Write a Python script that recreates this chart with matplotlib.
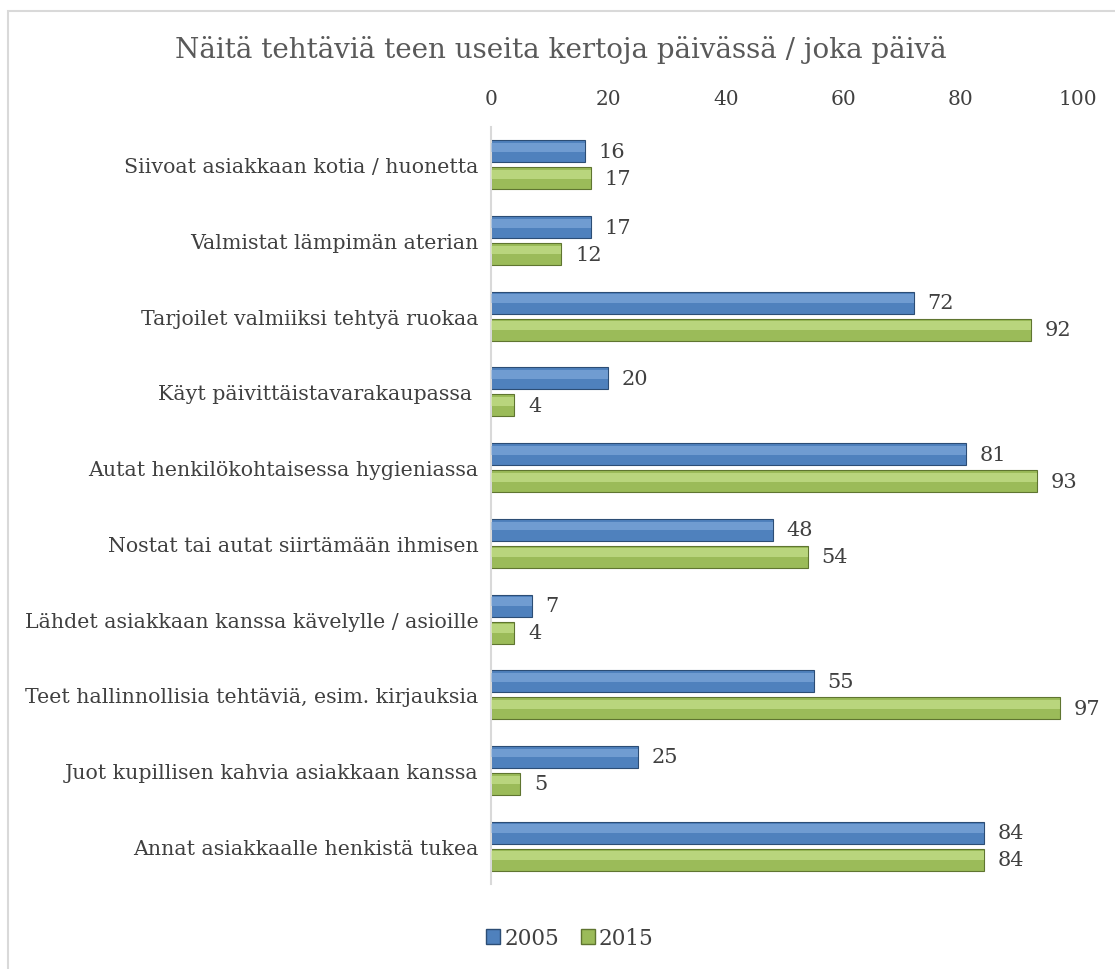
import matplotlib.pyplot as plt
from matplotlib.patches import Rectangle
import numpy as np

# Data
categories = [
    "Siivoat asiakkaan kotia / huonetta",
    "Valmistat lämpimän aterian",
    "Tarjoilet valmiiksi tehtyä ruokaa",
    "Käyt päivittäistavarakaupassa ",
    "Autat henkilökohtaisessa hygieniassa",
    "Nostat tai autat siirtämään ihmisen",
    "Lähdet asiakkaan kanssa kävelylle / asioille",
    "Teet hallinnollisia tehtäviä, esim. kirjauksia",
    "Juot kupillisen kahvia asiakkaan kanssa",
    "Annat asiakkaalle henkistä tukea",
]
values_2005 = [16, 17, 72, 20, 81, 48, 7, 55, 25, 84]
values_2015 = [17, 12, 92, 4, 93, 54, 4, 97, 5, 84]
series_names = ["2005", "2015"]
x_ticks = [0, 20, 40, 60, 80, 100]

title = "Näitä tehtäviä teen useita kertoja päivässä / joka päivä"

plt.rcParams['font.family'] = ['DejaVu Serif']
text_color = "#404040"

fig = plt.figure(figsize=(11.15, 9.7), dpi=100)

# light frame around the chart area
fig.patches.append(Rectangle((8 / 1115, -0.05), 1.2, 1 - 12 / 970 + 0.05,
                             transform=fig.transFigure, fill=False,
                             edgecolor="#d9d9d9", linewidth=1.5))

ax = fig.add_axes([491 / 1115, 1 - 885 / 970, (1078 - 491) / 1115, (885 - 128) / 970])

y = np.arange(len(categories))
h = 0.29
off = 0.178


def bevel_bars(ypos, vals, face, light, dark):
    ax.barh(ypos, vals, height=h, color=face, edgecolor=dark, linewidth=0.8, zorder=2)
    # soft lighter band in the upper half to mimic the bevel
    ax.barh(ypos - h * 0.18, vals, height=h * 0.4, color=light, linewidth=0, alpha=0.55, zorder=3)


bevel_bars(y - off, values_2005, "#4f81bd", "#8db3e2", "#2c4d75")
bevel_bars(y + off, values_2015, "#9bbb59", "#d2ec9c", "#5f7530")

for i in range(len(categories)):
    ax.text(values_2005[i] + 2.3, y[i] - off, str(values_2005[i]), va="center", ha="left",
            fontsize=15, color=text_color)
    ax.text(values_2015[i] + 2.3, y[i] + off, str(values_2015[i]), va="center", ha="left",
            fontsize=15, color=text_color)

ax.set_xlim(0, 100)
ax.set_ylim(len(categories) - 0.5, -0.5)
ax.set_xticks(x_ticks)
ax.xaxis.tick_top()
ax.tick_params(axis="x", length=0, pad=14, labelsize=14.5, labelcolor=text_color)
ax.set_yticks(y)
ax.set_yticklabels(categories)
ax.tick_params(axis="y", length=0, pad=9, labelsize=14.8, labelcolor=text_color)

for s in ["top", "right", "bottom"]:
    ax.spines[s].set_visible(False)
ax.spines["left"].set_color("#d9d9d9")
ax.spines["left"].set_linewidth(1.5)

fig.text(0.503, 1 - 50 / 970, title, ha="center", va="center", fontsize=20,
         color="#595959")

# legend
handles = [Rectangle((0, 0), 1, 1, facecolor="#4f81bd", edgecolor="#2c4d75"),
           Rectangle((0, 0), 1, 1, facecolor="#9bbb59", edgecolor="#5f7530")]
fig.legend(handles, series_names, loc="center", bbox_to_anchor=(0.511, 1 - 939 / 970),
           ncol=2, frameon=False, fontsize=15.5, handlelength=0.65, handleheight=0.65,
           handletextpad=0.2, columnspacing=1.0, labelcolor=text_color)

fig.savefig("out.png", dpi=100)
